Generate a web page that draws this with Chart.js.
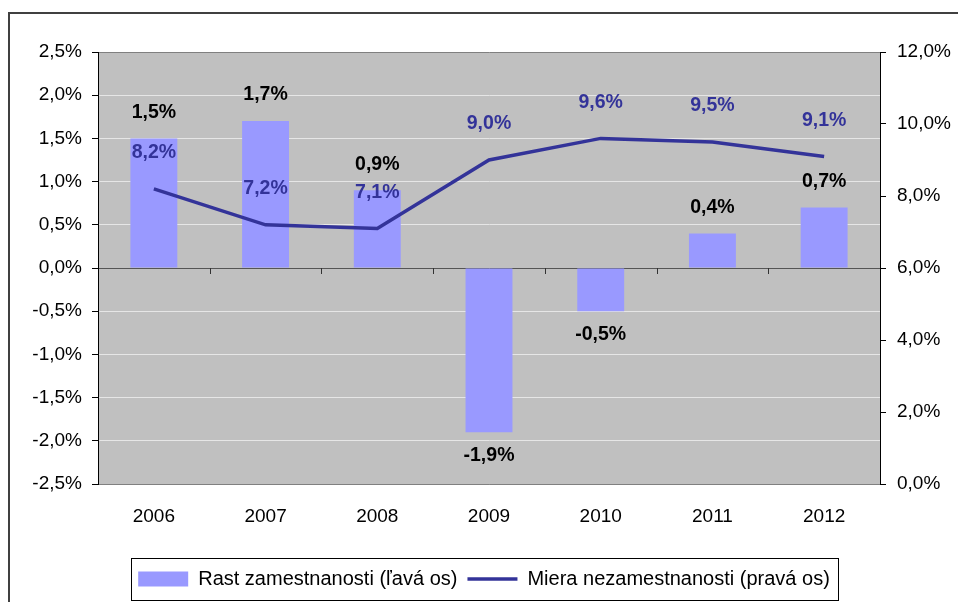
<!DOCTYPE html>
<html>
<head>
<meta charset="utf-8">
<script src="https://cdn.jsdelivr.net/npm/chart.js@4/dist/chart.umd.min.js"></script>
<style>
  body { margin: 0; background: #fff; }
  #wrap { width: 958px; height: 602px; position: relative; }
</style>
</head>
<body>
<div id="wrap"><canvas id="chart"></canvas></div>
<script>
const years = ['2006', '2007', '2008', '2009', '2010', '2011', '2012'];
const employmentGrowth = [1.5, 1.7, 0.9, -1.9, -0.5, 0.4, 0.7];
const unemploymentRate = [8.2, 7.2, 7.1, 9.0, 9.6, 9.5, 9.1];
const seriesNames = ['Rast zamestnanosti (ľavá os)', 'Miera nezamestnanosti (pravá os)'];

const FONT = '"Liberation Sans", Arial, sans-serif';
const BAR_COLOR = '#9999ff';
const LINE_COLOR = '#333399';

function pct(v) {
    return v.toFixed(1).replace('.', ',') + '%';
}

// grey plot area + outer frame
const backdrop = {
    id: 'backdrop',
    beforeDraw(chart) {
        const { ctx, chartArea: a } = chart;
        ctx.save();
        ctx.fillStyle = '#c0c0c0';
        ctx.fillRect(a.left, a.top, a.right - a.left, a.bottom - a.top);
        ctx.strokeStyle = '#404040';
        ctx.lineWidth = 2;
        ctx.strokeRect(9, 13, chart.width + 10, chart.height + 10);
        ctx.restore();
    }
};

// value labels, small ticks on zero line, legend frame
const labels = {
    id: 'labels',
    afterDatasetsDraw(chart) {
        const { ctx } = chart;
        const xs = chart.scales.x;
        const y0 = chart.scales.y.getPixelForValue(0);
        ctx.save();
        ctx.strokeStyle = '#333';
        ctx.lineWidth = 1;
        for (let i = 0; i < years.length - 1; i++) {
            const x = Math.round((xs.getPixelForValue(i) + xs.getPixelForValue(i + 1)) / 2) + 0.5;
            ctx.beginPath();
            ctx.moveTo(x, y0);
            ctx.lineTo(x, y0 + 6);
            ctx.stroke();
        }

        ctx.font = 'bold 19.5px ' + FONT;
        ctx.textAlign = 'center';
        ctx.textBaseline = 'middle';

        const barMeta = chart.getDatasetMeta(0);
        barMeta.data.forEach((bar, i) => {
            const v = employmentGrowth[i];
            const y = v >= 0 ? bar.y - 26 : bar.y + 23;
            ctx.fillStyle = '#000';
            ctx.fillText(pct(v), bar.x, y);
        });

        const lineMeta = chart.getDatasetMeta(1);
        lineMeta.data.forEach((pt, i) => {
            ctx.fillStyle = LINE_COLOR;
            ctx.fillText(pct(unemploymentRate[i]), pt.x, pt.y - 36);
        });
        ctx.restore();
    },
    afterDraw(chart) {
        const boxes = chart.legend.legendHitBoxes;
        if (!boxes || !boxes.length) return;
        const { ctx } = chart;
        const first = boxes[0];
        const last = boxes[boxes.length - 1];
        const cy = first.top + first.height / 2;
        ctx.save();
        ctx.strokeStyle = '#000';
        ctx.lineWidth = 1;
        ctx.strokeRect(Math.round(first.left - 7) + 0.5, Math.round(cy - 21) + 0.5,
            Math.round(last.left + last.width - first.left + 15), 42);
        ctx.restore();
    }
};

new Chart(document.getElementById('chart'), {
    data: {
        labels: years,
        datasets: [
            {
                type: 'bar',
                label: seriesNames[0],
                data: employmentGrowth,
                backgroundColor: BAR_COLOR,
                borderWidth: 0,
                yAxisID: 'y',
                categoryPercentage: 1,
                barPercentage: 0.42,
                order: 2
            },
            {
                type: 'line',
                label: seriesNames[1],
                data: unemploymentRate,
                borderColor: LINE_COLOR,
                backgroundColor: LINE_COLOR,
                borderWidth: 3.5,
                pointRadius: 0,
                tension: 0,
                yAxisID: 'y1',
                order: 1
            }
        ]
    },
    options: {
        responsive: true,
        maintainAspectRatio: false,
        animation: false,
        layout: { padding: { top: 52, left: 10, right: 0, bottom: 3 } },
        plugins: {
            tooltip: { enabled: false },
            legend: {
                position: 'bottom',
                labels: {
                    usePointStyle: true,
                    pointStyleWidth: 50,
                    boxHeight: 15,
                    padding: 10,
                    color: '#000',
                    font: { family: FONT, size: 20 },
                    generateLabels: chart => chart.data.datasets.map((ds, i) => ({
                        text: ds.label,
                        datasetIndex: i,
                        fillStyle: ds.backgroundColor,
                        strokeStyle: ds.type === 'line' ? ds.borderColor : ds.backgroundColor,
                        lineWidth: ds.type === 'line' ? 3.5 : 0,
                        pointStyle: ds.type === 'line' ? 'line' : 'rect',
                        hidden: false,
                        fontColor: '#000'
                    }))
                }
            }
        },
        scales: {
            x: {
                offset: true,
                grid: { display: false, drawTicks: false },
                border: { color: '#808080' },
                ticks: { color: '#000', padding: 21, font: { family: FONT, size: 19 } },
                afterFit: s => { s.height = 75; }
            },
            y: {
                position: 'left',
                min: -2.5,
                max: 2.5,
                ticks: {
                    stepSize: 0.5,
                    color: '#000',
                    padding: 10,
                    font: { family: FONT, size: 19 },
                    callback: v => pct(v)
                },
                grid: {
                    tickLength: 6,
                    tickColor: '#000',
                    color: c => {
                        const v = c.tick ? c.tick.value : null;
                        if (v === 0) return '#555';
                        if (v === 2.5 || v === -2.5) return '#808080';
                        return '#e6e6e6';
                    }
                },
                border: { color: '#000' },
                afterFit: s => { s.width = 88; }
            },
            y1: {
                position: 'right',
                min: 0,
                max: 12,
                ticks: {
                    stepSize: 2,
                    color: '#000',
                    padding: 11,
                    font: { family: FONT, size: 19 },
                    callback: v => pct(v)
                },
                grid: { drawOnChartArea: false, tickLength: 6, tickColor: '#000' },
                border: { color: '#000' },
                afterFit: s => { s.width = 78; }
            }
        }
    },
    plugins: [backdrop, labels]
});
</script>
</body>
</html>
